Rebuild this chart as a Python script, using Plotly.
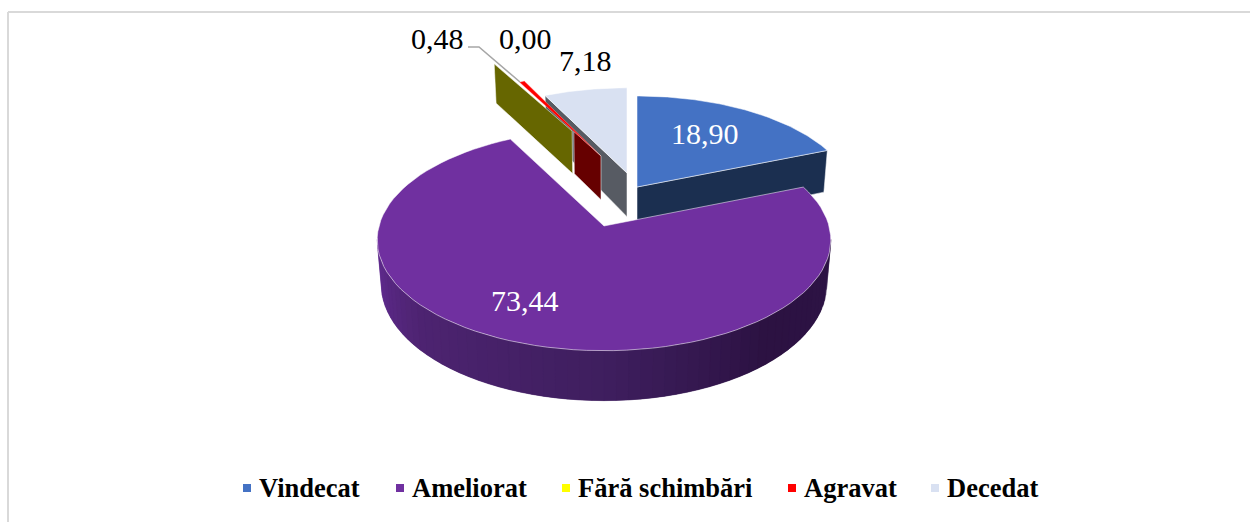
import numpy as np
import plotly.graph_objects as go

categories = ["Vindecat", "Ameliorat", "Fără schimbări", "Agravat", "Decedat"]
values = [18.90, 73.44, 0.00, 0.48, 7.18]
top_colors = ["#4472C4", "#7030A0", "#FFFF00", "#FF0000", "#D9E1F2"]
wall_colors = ["#1B2F50", "#3F1F5F", "#666600", "#660000", "#575B63"]

# projection of the tilted pie into the pixel-sized axes
CX, CY, RX, RY, PERSP, DEPTH, TAPER = 604.0, 226.0, 225.0, 109.0, 0.126, 43.7, 0.018
# explosion of every slice: dx, dy, scale x, scale y
EXPLODE = {
    "Vindecat": (33, -39, 0.955, 0.94),
    "Ameliorat": (0, 0, 1.0, 1.0),
    "Fără schimbări": (-3, -70, 1.14, 1.06),
    "Agravat": (-3, -70, 0.87, 0.85),
    "Decedat": (23, -53, 0.93, 0.88),
}
WALL_SPLIT = 0.25  # the part of the cut face that shows the red wall
GRAD_POS = [0.0, 0.2, 0.5, 0.75, 1.0]
GRAD_RGB = [(98, 44, 146), (78, 36, 114), (63, 31, 95), (44, 18, 66), (46, 20, 70)]


def project(name, u, v, z=0.0):
    dx, dy, sx, sy = EXPLODE[name]
    u, v = np.asarray(u, float), np.asarray(v, float)
    w = 1 + PERSP * v
    x = CX + dx + sx * RX * u / w * (1 - TAPER * z)
    y = CY + dy - sy * RY * v / w + DEPTH * z / w
    return x, y


def rim(name, a0, a1, z=0.0, n=90):
    t = np.radians(np.linspace(a0, a1, n))
    return project(name, np.sin(t), np.cos(t), z)


def polygon(xs, ys, fill, line="rgba(255,255,255,0.65)", width=0.8):
    return go.Scatter(x=list(xs) + [xs[0]], y=list(ys) + [ys[0]], mode="lines", fill="toself",
                      fillcolor=fill, line=dict(color=line, width=width),
                      hoverinfo="skip", showlegend=False)


def cut_wall(name, angle, color, t0=0.0, t1=1.0):
    a = np.radians(angle)
    us, vs = np.sin(a), np.cos(a)
    x0, y0 = project(name, us * t0, vs * t0)
    x1, y1 = project(name, us * t1, vs * t1)
    x2, y2 = project(name, us * t1, vs * t1, 1)
    x3, y3 = project(name, us * t0, vs * t0, 1)
    return polygon([x0, x1, x2, x3], [y0, y1, y2, y3], color)


def wedge(name, a0, a1, color, **kw):
    ax, ay = project(name, 0, 0)
    rx, ry = rim(name, a0, a1)
    return polygon([float(ax)] + list(rx), [float(ay)] + list(ry), color, **kw)


edges = np.concatenate([[0], np.cumsum(values)]) * 3.6
ang = {c: (edges[i], edges[i + 1]) for i, c in enumerate(categories)}
top = dict(zip(categories, top_colors))
wall = dict(zip(categories, wall_colors))

fig = go.Figure()

# frame of the chart area
for xs, ys in (([8, 8], [522, 12]), ([8, 1250], [12, 12])):
    fig.add_trace(go.Scatter(x=xs, y=ys, mode="lines", line=dict(color="#D9D9D9", width=2),
                             hoverinfo="skip", showlegend=False))

# Decedat
fig.add_trace(cut_wall("Decedat", ang["Decedat"][0], wall["Decedat"]))
fig.add_trace(wedge("Decedat", *ang["Decedat"], top["Decedat"]))
# Agravat / Fără schimbări cut faces and the thin top of Agravat
fig.add_trace(cut_wall("Agravat", ang["Agravat"][0], wall["Agravat"], 0, 0.31))
fig.add_trace(cut_wall("Fără schimbări", ang["Fără schimbări"][0], wall["Fără schimbări"], WALL_SPLIT, 1))
fig.add_trace(wedge("Agravat", *ang["Agravat"], top["Agravat"], line="rgba(255,200,200,0.6)", width=0.6))
# Vindecat
fig.add_trace(cut_wall("Vindecat", ang["Vindecat"][1], wall["Vindecat"]))
fig.add_trace(wedge("Vindecat", *ang["Vindecat"], top["Vindecat"]))

# Ameliorat outer wall with a left-to-right shade
A0, A1 = 97.0, 263.0
steps = np.linspace(A1, A0, 61)
for i in range(len(steps) - 1):
    f = i / (len(steps) - 2)
    rgb = [int(np.interp(f, GRAD_POS, [c[k] for c in GRAD_RGB])) for k in range(3)]
    color = f"rgb({rgb[0]},{rgb[1]},{rgb[2]})"
    tx, ty = rim("Ameliorat", steps[i], steps[min(i + 2, len(steps) - 1)], 0, 6)
    bx, by = rim("Ameliorat", steps[min(i + 2, len(steps) - 1)], steps[i], 1, 6)
    fig.add_trace(polygon(list(tx) + list(bx), list(ty) + list(by), color, line=color, width=0.3))
fig.add_trace(wedge("Ameliorat", *ang["Ameliorat"], top["Ameliorat"]))

# leader line of the small slice
fig.add_trace(go.Scatter(x=[468, 479, 520], y=[47, 47, 82], mode="lines",
                         line=dict(color="#A6A6A6", width=1.5), hoverinfo="skip", showlegend=False))

# legend markers
leg_marker_x = [247, 400, 566, 792, 935]
leg_text_x = [257, 410, 576, 802, 945]
fig.add_trace(go.Scatter(x=leg_marker_x, y=[488] * 5, mode="markers",
                         marker=dict(symbol="square", size=8, color=top_colors, line=dict(width=0)),
                         text=categories, hoverinfo="text", showlegend=False))

annotations = []
for name, tx in zip(categories, leg_text_x):
    annotations.append(dict(x=tx, y=488, text=f"<b>{name}</b>", xanchor="left", yanchor="middle",
                            showarrow=False, font=dict(family="Liberation Serif", size=26.5, color="black")))

label_xy = {"Vindecat": (705, 133.5, "white"), "Ameliorat": (525, 300.5, "white"),
            "Agravat": (437, 38, "black"), "Fără schimbări": (525, 38, "black"),
            "Decedat": (585, 60, "black")}
for name, val in zip(categories, values):
    lx, ly, col = label_xy[name]
    annotations.append(dict(x=lx, y=ly, text=f"{val:.2f}".replace(".", ","), xanchor="center", yanchor="middle",
                            showarrow=False, font=dict(family="Liberation Serif", size=30, color=col)))

fig.update_layout(
    width=1250, height=522, margin=dict(l=0, r=0, t=0, b=0),
    paper_bgcolor="white", plot_bgcolor="white", showlegend=False, annotations=annotations,
    xaxis=dict(range=[0, 1250], visible=False, fixedrange=True),
    yaxis=dict(range=[522, 0], visible=False, fixedrange=True),
)
fig.write_html("out.html", config={"displayModeBar": False},
               post_script="document.body.style.margin='0';document.body.style.overflow='hidden';")
